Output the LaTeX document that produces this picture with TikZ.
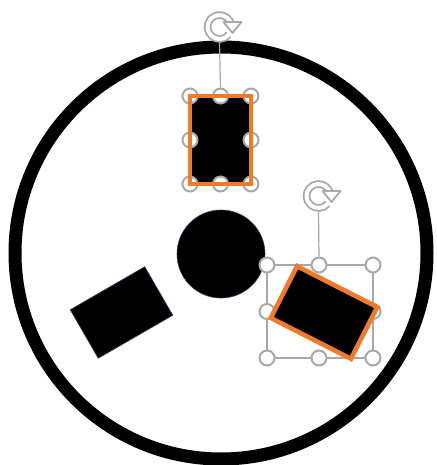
\documentclass[tikz,border=0pt]{standalone}
\usepackage{tikz}
\usepackage{xcolor}

\begin{document}
\begin{tikzpicture}[x=1pt,y=-1pt]

    \definecolor{selorange}{RGB}{240,122,40}
    \definecolor{gripgray}{RGB}{168,168,168}
    \definecolor{inkedge}{RGB}{40,60,105}

    \tikzset{
        solid shape/.style={fill=black,draw=inkedge,line width=0.6},
        grip/.style={circle,draw=gripgray,fill=white,line width=2,minimum size=15,inner sep=0},
        gripline/.style={draw=gripgray,line width=1.2},
        selframe/.style={draw=selorange,line width=4.6},
        spinring/.style={draw=gripgray,line width=1.8,double=white,double distance=4}
    }

    \newcommand{\grips}[7]{%
        \draw[gripline] (#2,#5) rectangle (#4,#7);
        \foreach \gx/\gy/\gn in {#2/#5/nw,#3/#5/n,#4/#5/ne,#2/#6/w,#4/#6/e,#2/#7/sw,#3/#7/s,#4/#7/se}
        \node[grip] (#1-\gn) at (\gx,\gy) {};
    }
    \newcommand{\spin}[3]{%
        \node[circle,minimum size=31,inner sep=0] (#1) at (#2,#3) {};
        \draw[spinring] (#1.center) ++(40:12) arc[start angle=40,end angle=338,radius=12];
        \draw[draw=gripgray,fill=white,line width=1.8,line join=round]
        (#2+4,#3-5) -- (#2+22,#3-5) -- (#2+13,#3+6) -- cycle;
    }

    \useasboundingbox (0,0) rectangle (436,465);

    \node[circle,draw=black,line width=13,minimum size=412,inner sep=0] (rim) at (221,253) {};
    \node[circle,solid shape,minimum size=88,inner sep=0] (hub) at (221,254) {};

    \node[solid shape,minimum width=86,minimum height=56,inner sep=0,rotate=30] (leftblock) at (121.5,312.5) {};

    \node[solid shape,minimum width=61,minimum height=88,inner sep=0] (topblock) at (220.5,140) {};
    \grips{topsel}{190}{220.5}{251}{96}{140}{184}
    \node[selframe,minimum width=61,minimum height=88,inner sep=0] (topframe) at (220.5,140) {};
    \spin{topspin}{219.5}{27}
    \draw[gripline] (topspin.south) -- (topsel-n.north);

    \grips{rightsel}{267}{319}{373}{265}{311.5}{358}
    \node[solid shape,minimum width=90,minimum height=58,inner sep=0,rotate=-27] (rightblock) at (324,312.5) {};
    \node[selframe,minimum width=90,minimum height=58,inner sep=0,rotate=-27] (rightframe) at (324,312.5) {};
    \spin{rightspin}{318.5}{196}
    \draw[gripline] (rightspin.south) -- (rightsel-n.north);

\end{tikzpicture}
\end{document}
